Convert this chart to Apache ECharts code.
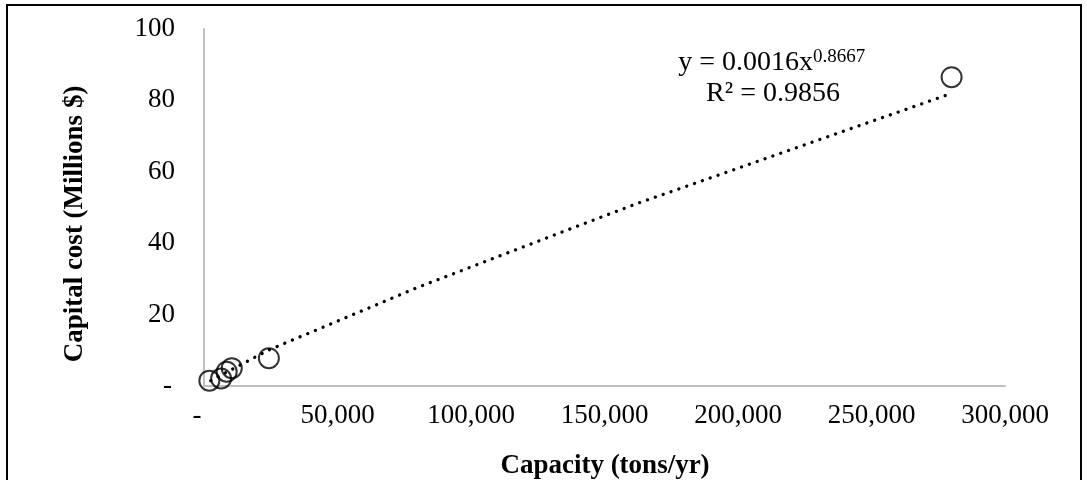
<!DOCTYPE html>
<html>
<head>
<meta charset="utf-8">
<script src="https://cdn.jsdelivr.net/npm/echarts@6/dist/echarts.min.js"></script>
<style>
html,body{margin:0;padding:0;background:#fff;}
#chart{width:1087px;height:480px;}
</style>
</head>
<body>
<div id="chart"></div>
<script>
// Scatter data: capacity (tons/yr) and capital cost (Millions $)
var capacity = [2000, 6400, 8500, 10400, 24300, 280000];
var capitalCost = [1.5, 2.1, 4.0, 5.0, 7.8, 86.5];

// Power trendline
var trendX = [2500, 24000, 80000, 133300, 161800, 278600];
var trendY = [1.5, 10.0, 27.6, 42.9, 51.0, 81.6];

var xTicks = [0, 50000, 100000, 150000, 200000, 250000, 300000];
var yTicks = [0, 20, 40, 60, 80, 100];

var equationText = 'y = 0.0016x';
var exponentText = '0.8667';
var r2Text = 'R² = 0.9856';
var xTitle = 'Capacity (tons/yr)';
var yTitle = 'Capital cost (Millions $)';

var FONT = '"Liberation Serif", "Times New Roman", serif';

var points = capacity.map(function (x, i) { return [x, capitalCost[i]]; });
var trend = trendX.map(function (x, i) { return [x, trendY[i]]; });

var chart = echarts.init(document.getElementById('chart'));
chart.setOption({
  animation: false,
  backgroundColor: '#fff',
  grid: { left: 204, right: 82, top: 29, bottom: 94 },
  xAxis: {
    type: 'value',
    min: xTicks[0],
    max: xTicks[xTicks.length - 1],
    interval: xTicks[1] - xTicks[0],
    axisLine: { show: true, lineStyle: { color: '#bfbfbf', width: 2 } },
    axisTick: { show: false },
    splitLine: { show: false },
    axisLabel: {
      color: '#000',
      fontFamily: FONT,
      fontSize: 27,
      margin: 16,
      formatter: function (v) {
        return v === 0 ? '{z|-}' : v.toLocaleString('en-US');
      },
      rich: { z: { fontFamily: FONT, fontSize: 27, color: '#000', padding: [0, 14, 0, 0] } }
    }
  },
  yAxis: {
    type: 'value',
    min: yTicks[0],
    max: yTicks[yTicks.length - 1],
    interval: yTicks[1] - yTicks[0],
    axisLine: { show: true, lineStyle: { color: '#bfbfbf', width: 2 } },
    axisTick: { show: false },
    splitLine: { show: false },
    axisLabel: {
      color: '#000',
      fontFamily: FONT,
      fontSize: 27,
      margin: 29,
      formatter: function (v) {
        return v === 0 ? '{z|-}' : String(v);
      },
      rich: { z: { fontFamily: FONT, fontSize: 27, color: '#000', padding: [0, 3, 0, 0] } }
    }
  },
  series: [
    {
      type: 'line',
      data: trend,
      showSymbol: false,
      symbol: 'none',
      silent: true,
      z: 1,
      lineStyle: { color: '#000', width: 3.3, type: [0.1, 8.2], cap: 'round' }
    },
    {
      type: 'scatter',
      data: points,
      symbol: 'circle',
      symbolSize: 20,
      z: 2,
      itemStyle: { color: 'rgba(0,0,0,0)', borderColor: '#000', borderWidth: 2 }
    }
  ],
  graphic: [
    {
      type: 'rect',
      shape: { x: 7, y: 5, width: 1074, height: 500 },
      style: { fill: 'none', stroke: '#000', lineWidth: 2 },
      silent: true
    },
    {
      type: 'text', x: 75, y: 224, rotation: Math.PI / 2,
      style: { text: yTitle, font: 'bold 27px ' + FONT, fill: '#000', align: 'center', verticalAlign: 'middle' }
    },
    {
      type: 'text', x: 605, y: 466,
      style: { text: xTitle, font: 'bold 27px ' + FONT, fill: '#000', align: 'center', verticalAlign: 'middle' }
    },
    {
      type: 'text', x: 813, y: 63,
      style: { text: equationText, font: '28px ' + FONT, fill: '#000', align: 'right', verticalAlign: 'middle' }
    },
    {
      type: 'text', x: 813, y: 57,
      style: { text: exponentText, font: '19px ' + FONT, fill: '#000', align: 'left', verticalAlign: 'middle' }
    },
    {
      type: 'text', x: 773, y: 94,
      style: { text: r2Text, font: '28px ' + FONT, fill: '#000', align: 'center', verticalAlign: 'middle' }
    }
  ]
});
</script>
</body>
</html>
